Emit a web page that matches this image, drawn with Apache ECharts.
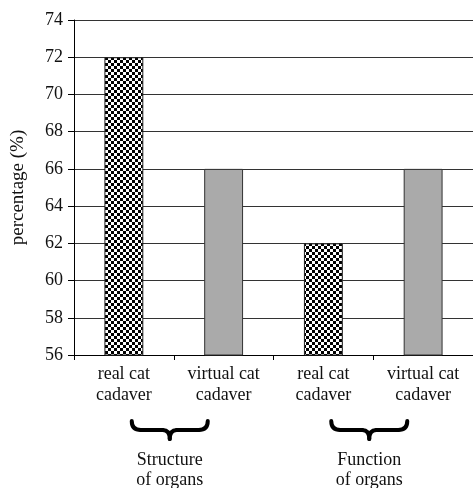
<!DOCTYPE html>
<html><head><meta charset="utf-8">
<script src="https://cdn.jsdelivr.net/npm/echarts@6/dist/echarts.min.js"></script>
<style>html,body{margin:0;padding:0;background:#fff}#c{width:473px;height:488px}</style>
</head><body><div id="c"></div>
<script>
var categories = ['real cat\ncadaver', 'virtual cat\ncadaver', 'real cat\ncadaver', 'virtual cat\ncadaver'];
var values = [72, 66, 62, 66];
var kinds = ['real', 'virtual', 'real', 'virtual'];
var groups = [{label: 'Structure\nof organs', from: 0, to: 1}, {label: 'Function\nof organs', from: 2, to: 3}];
var yTicks = {min: 56, max: 74, interval: 2};

var pc = document.createElement('canvas');
pc.width = 6; pc.height = 6;
var g = pc.getContext('2d');
g.fillStyle = '#fff'; g.fillRect(0, 0, 6, 6);
g.fillStyle = '#000'; g.fillRect(0, 0, 3, 3); g.fillRect(3, 3, 3, 3);

var font = 'Liberation Serif';
var chart = echarts.init(document.getElementById('c'));
var data = values.map(function (v, i) {
  return {
    value: v,
    itemStyle: kinds[i] === 'real'
      ? {color: {image: pc, repeat: 'repeat'}, borderColor: '#222', borderWidth: 1}
      : {color: '#aaaaaa', borderColor: '#333', borderWidth: 1}
  };
});
chart.setOption({
  animation: false,
  grid: {left: 74, right: 0, top: 20, bottom: 133, containLabel: false, outerBoundsMode: 'none'},
  xAxis: {
    type: 'category', data: categories,
    axisLine: {lineStyle: {color: '#000', width: 1}},
    axisTick: {show: true, length: 5, lineStyle: {color: '#000'}},
    axisLabel: {fontFamily: font, fontSize: 18, color: '#111', lineHeight: 21, margin: 9}
  },
  yAxis: {
    type: 'value', min: yTicks.min, max: yTicks.max, interval: yTicks.interval,
    name: 'percentage (%)', nameLocation: 'middle', nameGap: 46,
    nameTextStyle: {fontFamily: font, fontSize: 19, color: '#111'},
    axisLine: {show: true, lineStyle: {color: '#000', width: 1}},
    axisTick: {show: true, length: 6, lineStyle: {color: '#000'}},
    axisLabel: {fontFamily: font, fontSize: 18, color: '#111', margin: 11},
    splitLine: {lineStyle: {color: '#333', width: 1}}
  },
  series: [{type: 'bar', data: data, barWidth: '39%'}]
});

var gr = [];
var st = {fill: null, stroke: '#000', lineWidth: 4, lineCap: 'round'};
groups.forEach(function (grp) {
  var x1 = chart.convertToPixel({xAxisIndex: 0}, grp.from);
  var x2 = chart.convertToPixel({xAxisIndex: 0}, grp.to);
  var cx = (x1 + x2) / 2 - 4;
  var y0 = 421;
  gr.push({type: 'bezierCurve', shape: {x1: cx - 38, y1: y0, cpx1: cx - 38, cpy1: y0 + 9, x2: cx - 29, y2: y0 + 9}, style: st});
  gr.push({type: 'line', shape: {x1: cx - 29, y1: y0 + 9, x2: cx - 7, y2: y0 + 9}, style: st});
  gr.push({type: 'bezierCurve', shape: {x1: cx - 7, y1: y0 + 9, cpx1: cx, cpy1: y0 + 9, x2: cx, y2: y0 + 18}, style: st});
  gr.push({type: 'bezierCurve', shape: {x1: cx + 38, y1: y0, cpx1: cx + 38, cpy1: y0 + 9, x2: cx + 29, y2: y0 + 9}, style: st});
  gr.push({type: 'line', shape: {x1: cx + 29, y1: y0 + 9, x2: cx + 7, y2: y0 + 9}, style: st});
  gr.push({type: 'bezierCurve', shape: {x1: cx + 7, y1: y0 + 9, cpx1: cx, cpy1: y0 + 9, x2: cx, y2: y0 + 18}, style: st});
  gr.push({
    type: 'text', x: cx, y: 450,
    style: {text: grp.label, font: '18px "Liberation Serif"', fill: '#111', align: 'center', verticalAlign: 'top', lineHeight: 20}
  });
});
chart.setOption({graphic: gr});
</script></body></html>
